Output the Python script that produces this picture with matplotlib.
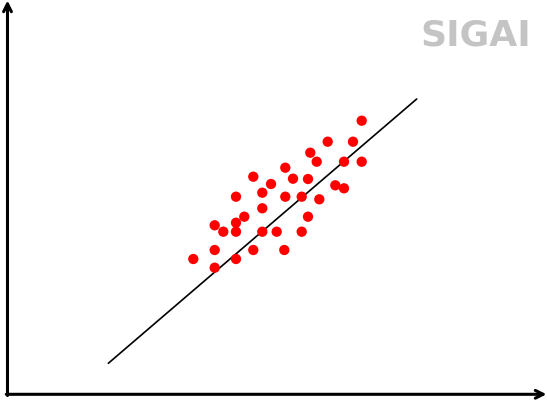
import numpy as np
import matplotlib
matplotlib.use('Agg')
import matplotlib.pyplot as plt

# puntos (x, y con y hacia arriba)
px = [361.7, 327.7, 353.0, 310.3, 316.7, 344.0, 361.7, 285.3, 253.3, 293.0,
      308.0, 271.0, 335.3, 344.0, 262.3, 236.0, 285.3, 301.7, 319.3, 262.3,
      244.3, 308.0, 236.0, 214.7, 223.3, 236.0, 262.3, 276.7, 301.7, 214.7,
      253.3, 284.3, 193.3, 236.0, 214.7]
py = [279.3, 258.3, 258.3, 247.3, 238.3, 238.3, 238.3, 232.3, 223.3, 221.3,
      221.0, 216.0, 214.7, 211.7, 207.3, 203.3, 203.3, 203.3, 200.7, 191.7,
      183.3, 183.3, 177.3, 174.7, 168.3, 168.3, 168.3, 168.3, 168.3, 150.0,
      150.0, 150.0, 141.0, 141.0, 132.3]

# recta de regresión (extremos)
line_x = [108.3, 416.7]
line_y = [36.7, 301.0]

W, H = 547, 400
fig = plt.figure(figsize=(W / 100, H / 100), dpi=100)
ax = fig.add_axes([0, 0, 1, 1])
ax.set_xlim(0, W)
ax.set_ylim(0, H)
ax.axis('off')

# ejes con flecha
ax.annotate('', xy=(7.5, H - 0.5), xytext=(7.5, 4.5),
            arrowprops=dict(arrowstyle='->', lw=2.2, color='black',
                            mutation_scale=14, shrinkA=0, shrinkB=0))
ax.annotate('', xy=(W - 0.5, 5.7), xytext=(6.3, 5.7),
            arrowprops=dict(arrowstyle='->', lw=2.2, color='black',
                            mutation_scale=14, shrinkA=0, shrinkB=0))

ax.plot(line_x, line_y, color='black', lw=1.2, solid_capstyle='round')
ax.scatter(px, py, s=55, color='#ff0000', edgecolors='none', zorder=3)

ax.text(476, 364, 'SIGAI', ha='center', va='center', fontsize=26,
        fontweight='bold', color='#c4c4c4', family='DejaVu Sans')

fig.savefig('out.png', dpi=100)
